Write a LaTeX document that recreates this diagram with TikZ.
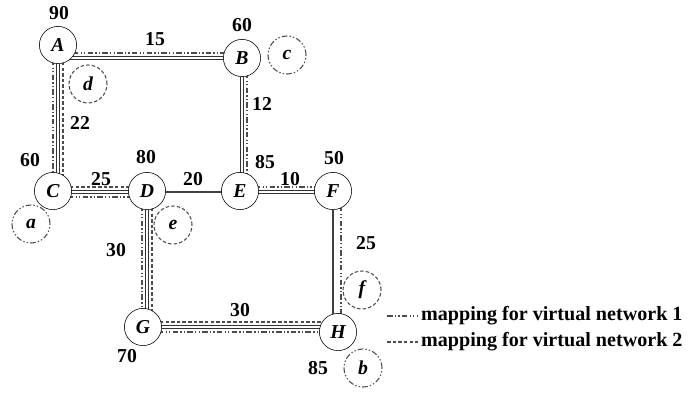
\documentclass[tikz,border=0pt]{standalone}
\usepackage{fontspec}
\setmainfont{Liberation Serif}
\usetikzlibrary{calc,backgrounds}
\begin{document}
\begin{tikzpicture}[x=0.025cm,y=-0.025cm,
  sub/.style={circle,draw,fill=white,minimum size=0.93cm,inner sep=0pt,font=\bfseries\itshape\fontsize{14}{14}\selectfont},
  virt/.style={circle,text=black,minimum size=0.95cm,inner sep=0pt,font=\bfseries\itshape\fontsize{14}{14}\selectfont},
  wt/.style={font=\bfseries\fontsize{14}{14}\selectfont,inner sep=0pt},
  lg/.style={font=\bfseries\fontsize{14.3}{14.3}\selectfont,inner sep=2pt,anchor=west},
  phys/.style={double=white,double distance=1pt,line width=0.6pt,draw=black!80},
  single/.style={line width=0.8pt,draw=black!75},
  vnone/.style={draw=black!70,line width=0.75pt,dash pattern=on 4pt off 1.5pt on 1pt off 1.5pt on 1pt off 1.5pt},
  vntwo/.style={draw=black!70,line width=0.75pt,dash pattern=on 2.5pt off 1.5pt}]
\useasboundingbox (0,0) rectangle (694,395);
\node[sub] (A) at (58,45) {A};
\node[sub] (B) at (242,58) {B};
\node[sub] (C) at (53,191) {C};
\node[sub] (D) at (147,191) {D};
\node[sub] (E) at (240,191) {E};
\node[sub] (F) at (333,191) {F};
\node[sub] (G) at (143,327) {G};
\node[sub] (H) at (338,332) {H};
\node[virt,vntwo] (d) at (88,84) {d};
\node[virt,vnone] (c) at (287,55) {c};
\node[virt,vnone] (a) at (31,224) {a};
\node[virt,vntwo] (e) at (173,225) {e};
\node[virt,vntwo] (f) at (362,290) {f};
\node[virt,vnone] (b) at (363,368) {b};
\begin{scope}[on background layer]
\draw[phys] (A |- B) -- (B);
\draw[vnone] ($(A |- B)+(0,-5)$) -- ($(B)+(0,-5)$);
\draw[phys] (A) -- (A |- C);
\draw[vnone] ($(A)+(-5,0)$) -- ($(A |- C)+(-5,0)$);
\draw[vntwo] ($(A)+(5,0)$) -- ($(A |- C)+(5,0)$);
\draw[phys] (B) -- (B |- E);
\draw[vnone] ($(B)+(5,0)$) -- ($(B |- E)+(5,0)$);
\draw[phys] ($(C)+(0,1)$) -- ($(D)+(0,1)$);
\draw[vntwo] ($(C)+(0,-4)$) -- ($(D)+(0,-4)$);
\draw[vnone] ($(C)+(0,6)$) -- ($(D)+(0,6)$);
\draw[single] ($(D)+(0,1)$) -- ($(E)+(0,1)$);
\draw[phys] ($(E)+(0,1)$) -- ($(F)+(0,1)$);
\draw[vnone] ($(E)+(0,-4)$) -- ($(F)+(0,-4)$);
\draw[phys] (D) -- (D |- G);
\draw[vnone] ($(D)+(-5,0)$) -- ($(D |- G)+(-5,0)$);
\draw[vntwo] ($(D)+(5,0)$) -- ($(D |- G)+(5,0)$);
\draw[single] (F) -- (F |- H);
\draw[vnone] ($(F)+(8,0)$) -- ($(F |- H)+(8,0)$);
\draw[phys] (G) -- (G -| H);
\draw[vntwo] ($(G)+(0,-5)$) -- ($(G -| H)+(0,-5)$);
\draw[vnone] ($(G)+(0,5)$) -- ($(G -| H)+(0,5)$);
\end{scope}
\node[wt] (wA) at (59,13) {90};
\node[wt] (wB) at (242,25) {60};
\node[wt] (wC) at (30,160) {60};
\node[wt] (wD) at (146,157) {80};
\node[wt] (wE) at (265,162) {85};
\node[wt] (wF) at (334,158) {50};
\node[wt] (wG) at (127,356) {70};
\node[wt] (wH) at (318,368) {85};
\node[wt] (lab) at (155,39) {15};
\node[wt] (lbe) at (262,104) {12};
\node[wt] (lac) at (80,123) {22};
\node[wt] (lcd) at (101,179) {25};
\node[wt] (lde) at (193,179) {20};
\node[wt] (lef) at (290,179) {10};
\node[wt] (ldg) at (116,250) {30};
\node[wt] (lfh) at (366,243) {25};
\node[wt] (lgh) at (240,310) {30};
\node[lg] (leg1) at (418,316) {mapping for virtual network 1};
\node[lg] (leg2) at (418,342) {mapping for virtual network 2};
\coordinate (k1) at (387,316);
\coordinate (k2) at (387,342);
\draw[vnone] (k1) -- (leg1.west);
\draw[vntwo] (k2) -- (leg2.west);
\end{tikzpicture}
\end{document}
